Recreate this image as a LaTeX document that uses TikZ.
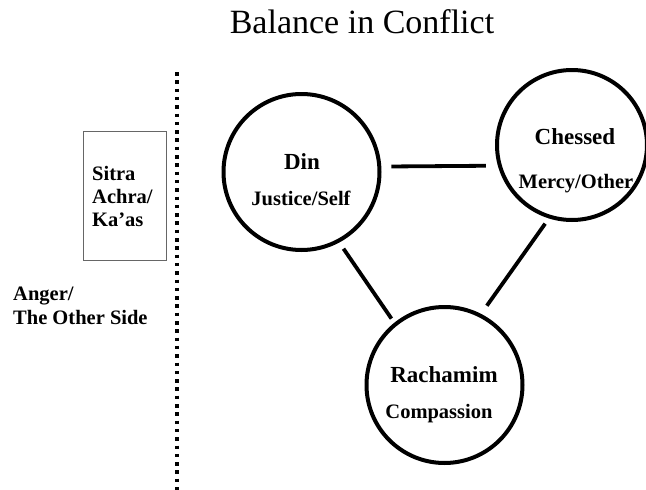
\documentclass[tikz,border=0pt]{standalone}
\usepackage{fontspec}
\setmainfont{Liberation Serif}
\begin{document}
\begin{tikzpicture}[x=1pt,y=-1pt,
  ring/.style={draw, circle, line width=4pt, inner sep=0pt, outer sep=0pt},
  link/.style={line width=3.8pt},
  head/.style={font=\fontsize{23}{27}\selectfont\bfseries, anchor=base, inner sep=0pt},
  sub/.style={font=\fontsize{20.5}{24}\selectfont\bfseries, anchor=base, inner sep=0pt},
  side/.style={font=\fontsize{20.5}{24}\selectfont\bfseries, anchor=base west, inner sep=0pt}]
\useasboundingbox (0,0) rectangle (646,490);
\clip (0,0) rectangle (646,490);
% title
\node[font=\fontsize{34}{40}\selectfont, anchor=base, inner sep=0pt] (title) at (362,33) {Balance in Conflict};
% divider
\coordinate (divtop) at (177,72);
\coordinate (divbot) at (177,492);
\draw[line width=3.5pt, dash pattern=on 3.5pt off 4.8pt] (divtop) -- (divbot);
% sitra box
\node[draw=black!60, line width=1.2pt, minimum width=83pt, minimum height=129pt, inner sep=0pt, anchor=north west] (sitra) at (83,131) {};
\node[side] (s1) at (92,180) {Sitra};
\node[side] (s2) at (92,203) {Achra/};
\node[side] (s3) at (92,226) {Ka’as};
% left text
\node[side] (a1) at (13,300) {Anger/};
\node[side] (a2) at (13,324) {The Other Side};
% circles
\node[ring, minimum size=156pt] (din) at (301.5,172) {};
\node[ring, minimum size=150pt] (chessed) at (572,145) {};
\node[ring, minimum size=156pt] (rach) at (444.5,385) {};
% texts
\node[head] (dint) at (302,169) {Din};
\node[sub] (dins) at (301,205) {Justice/Self};
\node[head] (cht) at (575,144) {Chessed};
\node[sub] (chs) at (576,188) {Mercy/Other};
\node[head] (rat) at (444,382) {Rachamim};
\node[sub] (ras) at (439,418) {Compassion};
% connectors
\draw[link, shorten <=12pt, shorten >=14pt] (din.4.4) -- (chessed.196);
\draw[link, shorten <=9.5pt, shorten >=7pt] (din.-62.4) -- (rach.129.4);
\draw[link, shorten <=8.5pt, shorten >=12pt] (chessed.253) -- (rach.63);
\end{tikzpicture}
\end{document}
